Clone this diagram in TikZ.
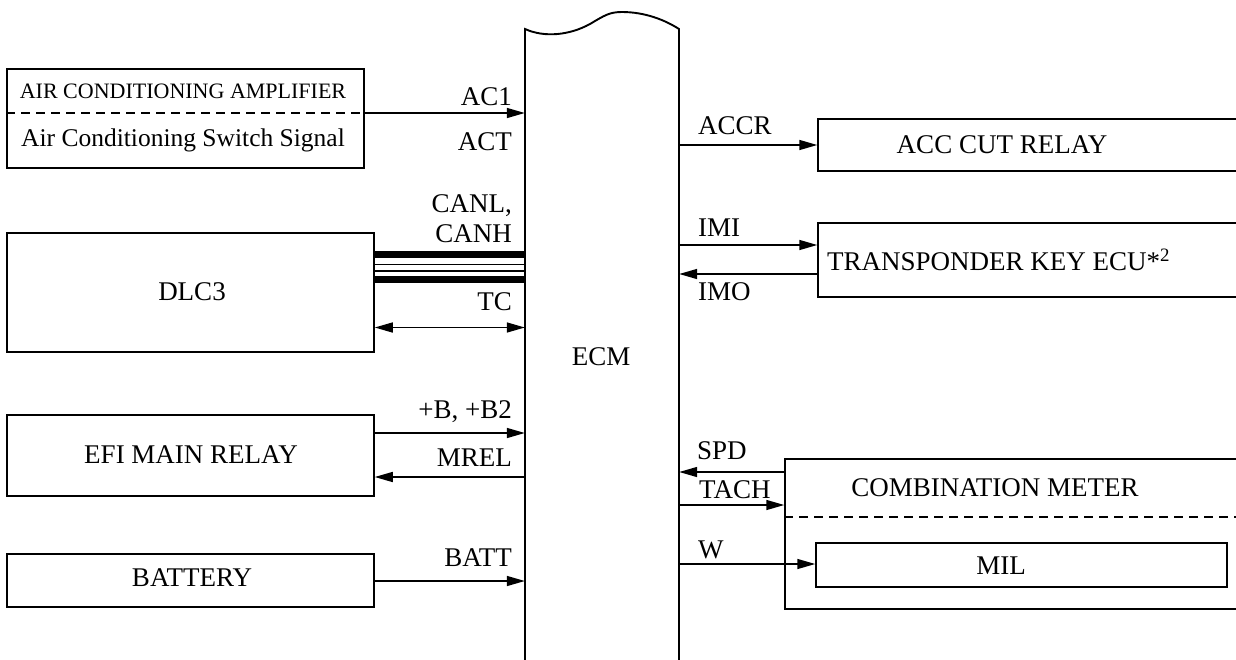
\documentclass[tikz,border=0pt]{standalone}
\usepackage{fontspec}
\setmainfont{Liberation Serif}
\usetikzlibrary{arrows.meta}
\tikzset{
  box/.style={draw, line width=1.5pt, inner sep=0, minimum width=#1},
  txt/.style={font=\fontsize{27pt}{30pt}\selectfont, inner sep=0},
  smalltxt/.style={font=\fontsize{22pt}{26pt}\selectfont, inner sep=0},
  midtxt/.style={font=\fontsize{25.5pt}{29pt}\selectfont, inner sep=0},
  arr/.style={line width=1.5pt, -{Triangle[length=18pt,width=10pt]}},
  darr/.style={line width=1.5pt, {Triangle[length=18pt,width=10pt]}-{Triangle[length=18pt,width=10pt]}},
  dashline/.style={line width=1.5pt, dash pattern=on 9pt off 6pt},
  thickbus/.style={line width=6.5pt},
  thinbus/.style={line width=1.6pt}
}
\begin{document}
\begin{tikzpicture}[x=1pt,y=-1pt]
\useasboundingbox (0,0) rectangle (1236,659);
\clip (0,0) rectangle (1236,659);
% ECM
\node[inner sep=0, minimum width=154pt, minimum height=651pt] (ecm) at (602,354.5) {};
\draw[line width=1.9pt] (525,690) -- (525,29) .. controls (545,38) and (570,35) .. (590,24)
  .. controls (605,15) and (610,12) .. (622,12) .. controls (645,12) and (665,20) .. (679,29) -- (679,690);
\node[txt] (ecmlbl) at (601,357) {ECM};
% helper y-levels
\coordinate (yac) at (0,113);
\coordinate (ycan1) at (0,254.5);
\coordinate (ycan2) at (0,264.5);
\coordinate (ycan3) at (0,271);
\coordinate (ycan4) at (0,279.5);
\coordinate (ytc) at (0,327.5);
\coordinate (yb) at (0,433);
\coordinate (ymrel) at (0,477);
\coordinate (ybatt) at (0,581);
\coordinate (yaccr) at (0,145);
\coordinate (yimi) at (0,245);
\coordinate (yimo) at (0,274);
\coordinate (yspd) at (0,472);
\coordinate (ytach) at (0,505);
\coordinate (yw) at (0,564);
\coordinate (ycmd) at (0,517);
% left boxes
\node[box=357pt, minimum height=99pt] (ac) at (185.5,118.5) {};
\draw[dashline] (ac.west |- yac) -- (ac.east |- yac);
\node[smalltxt] (actop) at (183,91) {AIR CONDITIONING AMPLIFIER};
\node[midtxt] (acbot) at (183,140) {Air Conditioning Switch Signal};
\node[box=367pt, minimum height=119pt] (dlc) at (190.5,292.5) {};
\node[txt] (dlclbl) at (192,292) {DLC3};
\node[box=367pt, minimum height=81pt] (efi) at (190.5,455.5) {};
\node[txt] (efilbl) at (191,455) {EFI MAIN RELAY};
\node[box=367pt, minimum height=53pt] (bat) at (190.5,580.5) {};
\node[txt] (batlbl) at (192,578) {BATTERY};
% right boxes
\node[box=427pt, minimum height=52pt] (acc) at (1031.5,145) {};
\node[txt] (acclbl) at (1002,145) {ACC CUT RELAY};
\node[box=427pt, minimum height=74pt] (tk) at (1031.5,260) {};
\node[txt, anchor=west] (tklbl) at (827,260) {TRANSPONDER KEY ECU*\textsuperscript{2}};
\node[box=460pt, minimum height=150pt] (cm) at (1015,534) {};
\draw[dashline] (cm.west |- ycmd) -- (cm.east |- ycmd);
\node[txt] (cmlbl) at (995,488) {COMBINATION METER};
\node[box=411pt, minimum height=44pt] (mil) at (1021.5,565) {};
\node[txt] (millbl) at (1001,566) {MIL};
% left connectors
\draw[arr] (ac.east |- yac) -- (ecm.west |- yac);
\draw[thickbus] (dlc.east |- ycan1) -- (ecm.west |- ycan1);
\draw[thinbus] (dlc.east |- ycan2) -- (ecm.west |- ycan2);
\draw[thinbus] (dlc.east |- ycan3) -- (ecm.west |- ycan3);
\draw[thickbus] (dlc.east |- ycan4) -- (ecm.west |- ycan4);
\draw[darr] (dlc.east |- ytc) -- (ecm.west |- ytc);
\draw[arr] (efi.east |- yb) -- (ecm.west |- yb);
\draw[arr] (ecm.west |- ymrel) -- (efi.east |- ymrel);
\draw[arr] (bat.east |- ybatt) -- (ecm.west |- ybatt);
% right connectors
\draw[arr] (ecm.east |- yaccr) -- (acc.west |- yaccr);
\draw[arr] (ecm.east |- yimi) -- (tk.west |- yimi);
\draw[arr] (tk.west |- yimo) -- (ecm.east |- yimo);
\draw[arr] (cm.west |- yspd) -- (ecm.east |- yspd);
\draw[arr] (ecm.east |- ytach) -- (cm.west |- ytach);
\draw[arr] (ecm.east |- yw) -- (mil.west |- yw);
% signal labels left
\node[txt, anchor=base east] (lac1) at (512,105) {AC1};
\node[txt, anchor=base east] (lact) at (512,150) {ACT};
\node[txt, anchor=base east] (lcanl) at (512,212) {CANL,};
\node[txt, anchor=base east] (lcanh) at (512,242) {CANH};
\node[txt, anchor=base east] (ltc) at (512,310) {TC};
\node[txt, anchor=base east] (lb) at (512,418) {+B, +B2};
\node[txt, anchor=base east] (lmrel) at (512,466) {MREL};
\node[txt, anchor=base east] (lbatt) at (512,566) {BATT};
% signal labels right
\node[txt, anchor=base west] (laccr) at (698,134) {ACCR};
\node[txt, anchor=base west] (limi) at (698,236) {IMI};
\node[txt, anchor=base west] (limo) at (698,300) {IMO};
\node[txt, anchor=base west] (lspd) at (697,459) {SPD};
\node[txt, anchor=base west] (ltach) at (699,498) {TACH};
\node[txt, anchor=base west] (lw) at (698,558) {W};
\end{tikzpicture}
\end{document}
